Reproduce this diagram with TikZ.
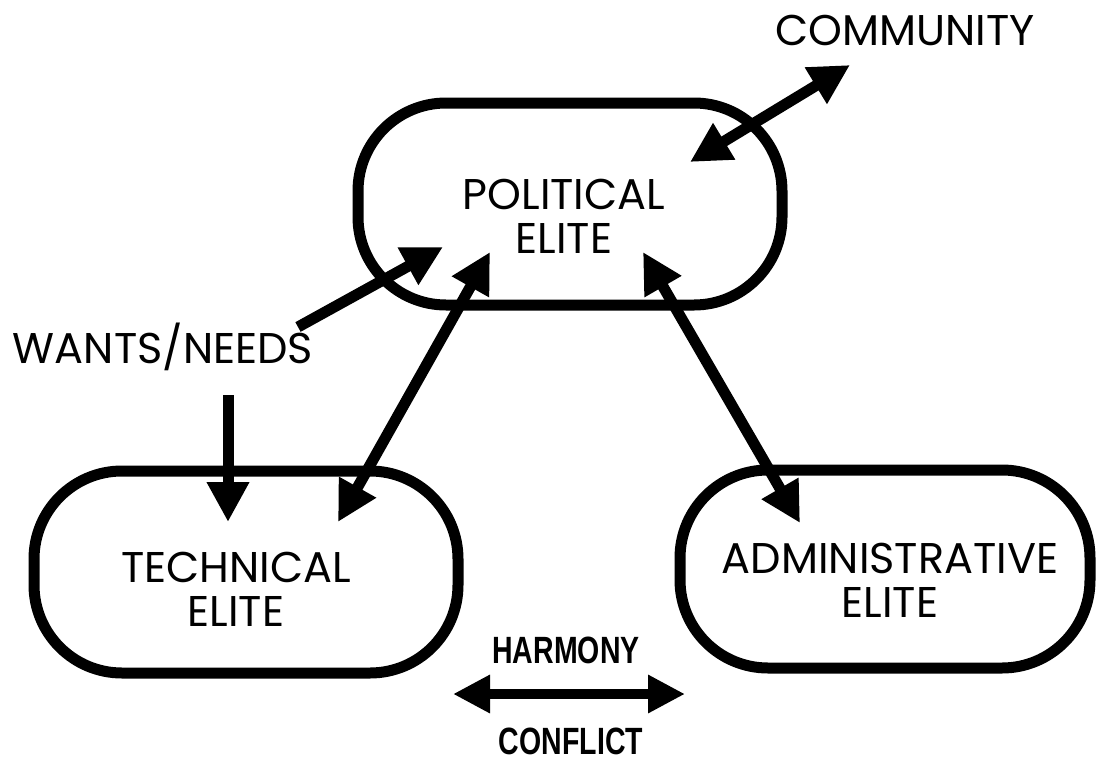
\documentclass[tikz,border=0pt]{standalone}
\usepackage{fontspec}
\setmainfont{Poppins}
\newfontfamily\condfont[FakeStretch=0.75]{Liberation Sans}
\usetikzlibrary{
	arrows.meta,
	positioning
}
\tikzset{
  % arrow
	cstra/.style      ={-{Triangle[length=20pt,width=20pt]}, line width=5.5pt},
	cstlra/.style     ={{Triangle[length=20pt,width=20pt]}-{Triangle[length=20pt,width=20pt]}, line width=5.5pt},
	cstnlra/.style    ={{Triangle[length=18.5pt,width=18pt]}-{Triangle[length=18.5pt,width=18pt]}, line width=5pt},
  % node
	cstelite/.style   ={draw=black, line width=5.5pt, rounded corners=44pt, minimum width=212pt, minimum height=101pt, inner sep=0pt},
	csttext/.style    ={align=center, inner sep=0pt, font=\fontsize{21.5}{22}\selectfont},
	cstcond/.style    ={inner sep=0pt, font=\condfont\bfseries\fontsize{19}{19}\selectfont}
}
\begin{document}
\begin{tikzpicture}[x=0.5pt,y=-0.5pt]
				\useasboundingbox (0,0) rectangle (1097,760);
				% elites
				\node[cstelite] (pol) at (570,204) {};
				\node[cstelite] (tech) at (246,572) {};
				\node[cstelite,minimum width=205pt,minimum height=99pt] (adm) at (885,569) {};
				\node[csttext] (pol-t) at (564,216) {POLITICAL\\ELITE};
				\node[csttext] (tech-t) at (236,589) {TECHNICAL\\ELITE};
				\node[csttext] (adm-t) at (890,580) {ADMINISTRATIVE\\ELITE};
				% outside labels
				\node[csttext] (comm) at (905,30) {COMMUNITY};
				\node[csttext] (wants) at (163,347) {WANTS/NEEDS};
				\node[cstcond] (harm) at (566,650) {HARMONY};
				\node[cstcond] (conf) at (571,741) {CONFLICT};
				% arrow ends
				\coordinate (comm-in) at (690,162);
				\coordinate (comm-out) at (850,65);
				\coordinate (wants-a) at (298,327);
				\coordinate (pol-a) at (443,247);
				\coordinate (wants-b) at (228,395);
				\coordinate (tech-a) at (228,522);
				\coordinate (pol-b) at (490,252);
				\coordinate (tech-b) at (338,522);
				\coordinate (pol-c) at (643,252);
				\coordinate (adm-a) at (800,523);
				\coordinate (harm-l) at (453,694);
				\coordinate (harm-r) at (685,694);
				% arrows
				\draw[cstlra] (comm-in) -- (comm-out);
				\draw[cstra] (wants-a) -- (pol-a);
				\draw[cstra] (wants-b) -- (tech-a);
				\draw[cstlra] (pol-b) -- (tech-b);
				\draw[cstlra] (pol-c) -- (adm-a);
				\draw[cstnlra] (harm-l) -- (harm-r);
			\end{tikzpicture}
\end{document}
